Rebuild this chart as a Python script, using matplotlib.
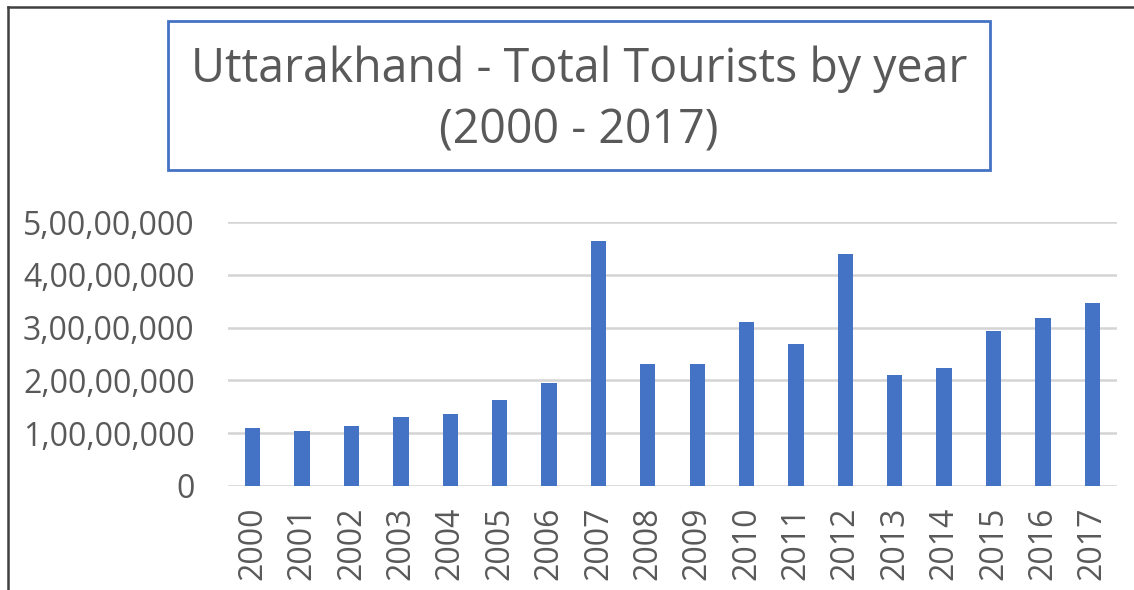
import matplotlib
matplotlib.use("Agg")
import matplotlib.pyplot as plt
from matplotlib.lines import Line2D
from matplotlib.patches import Rectangle
from matplotlib.ticker import FuncFormatter

years = [str(y) for y in range(2000, 2018)]
tourists = [
    1.106e7, 1.04e7, 1.14e7, 1.30e7, 1.37e7, 1.62e7, 1.95e7, 4.64e7, 2.32e7,
    2.32e7, 3.11e7, 2.68e7, 4.39e7, 2.10e7, 2.24e7, 2.93e7, 3.19e7, 3.47e7,
]
y_ticks = [0, 1e7, 2e7, 3e7, 4e7, 5e7]
title = "Uttarakhand - Total Tourists by year\n(2000 - 2017)"

BLUE = "#4472C4"
GRAY = "#595959"


def indian_format(v, pos=None):
    """Format a number with Indian digit grouping (lakh / crore)."""
    n = int(round(v))
    s = str(n)
    if len(s) <= 3:
        return s
    head, tail = s[:-3], s[-3:]
    groups = []
    while len(head) > 2:
        groups.insert(0, head[-2:])
        head = head[:-2]
    if head:
        groups.insert(0, head)
    return ",".join(groups + [tail])


plt.rcParams["font.family"] = ["Open Sans", "DejaVu Sans"]

fig = plt.figure(figsize=(11.34, 5.9), dpi=100)
ax = fig.add_axes([228 / 1134, 1 - 486 / 590, (1117 - 228) / 1134, (486 - 222) / 590])

x = range(len(years))
ax.bar(x, tourists, width=0.31, color=BLUE, zorder=3)

ax.set_xlim(-0.5, len(years) - 0.5)
ax.set_ylim(0, 5e7)
ax.set_yticks(y_ticks)
ax.yaxis.set_major_formatter(FuncFormatter(indian_format))
ax.set_xticks(list(x))
ax.set_xticklabels(years, rotation=90)
ax.tick_params(axis="y", length=0, pad=24, labelsize=23, labelcolor=GRAY)
ax.tick_params(axis="x", length=0, pad=15, labelsize=23, labelcolor=GRAY)
ax.grid(axis="y", color="#D4D4D4", linewidth=1.8, zorder=0)
for side in ax.spines.values():
    side.set_visible(False)

# title box
fig.add_artist(Rectangle((168 / 1134, 1 - 170 / 590), (990 - 168) / 1134, (170 - 21) / 590,
                         transform=fig.transFigure, fill=False, edgecolor=BLUE, linewidth=2))
fig.text((168 + 990) / 2 / 1134, 1 - 100 / 590, title, ha="center", va="center",
         fontsize=33.5, color=GRAY, linespacing=1.36)

# outer frame (left and top edges visible)
fig.add_artist(Line2D([7.5 / 1134, 7.5 / 1134], [0, 1 - 7 / 590], transform=fig.transFigure,
                      color="#404040", linewidth=1.8))
fig.add_artist(Line2D([7.5 / 1134, 1], [1 - 7 / 590, 1 - 7 / 590], transform=fig.transFigure,
                      color="#404040", linewidth=1.8))

fig.savefig("out.png", dpi=100)
plt.close(fig)
